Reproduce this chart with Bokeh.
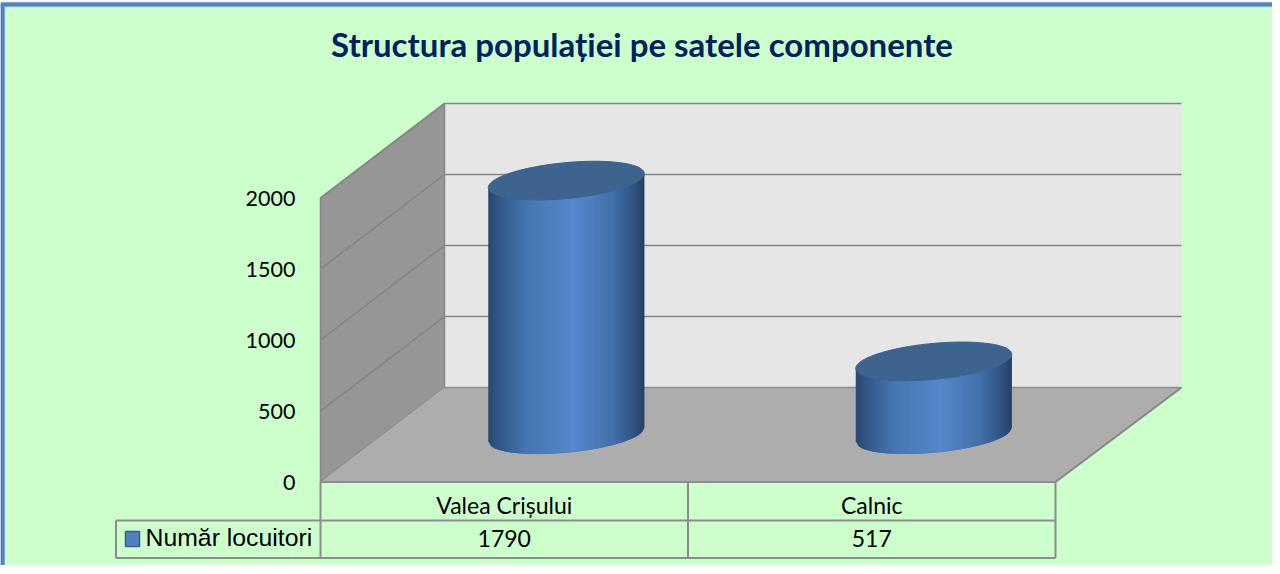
import math
from bokeh.plotting import figure
from bokeh.models import Range1d, LinearAxis, FixedTicker
from bokeh.core.properties import value
from bokeh.embed import file_html
from bokeh.resources import INLINE

# ---- data ----
title_text = "Structura populației pe satele componente"
categories = ["Valea Crișului", "Calnic"]
series_name = "Număr locuitori"
locuitori = [1790, 517]
y_ticks = [0, 500, 1000, 1500, 2000]

# ---- page geometry (pixels) ----
W, H = 1272, 565
LEFT, TOP = 8, 8
Y0_PX = 489.5          # pixel of value 0 on the front plane
SCALE = 0.142          # pixels per inhabitant
DEPTH_X, DEPTH_Y = 124, 94.5
FRONT_L, FRONT_R = 328, 1063
LEGEND_L = 123.5
ROW1, ROW2 = 528, 565.5
RX, RY, SHEAR = 78, 18, 7

def py(px):
    """pixel row -> data y"""
    return (Y0_PX - px) / SCALE

def off(px):
    """upward pixel offset -> data units"""
    return px / SCALE

p = figure(width=W, height=H, output_backend="svg", toolbar_location=None,
           x_range=Range1d(LEFT, LEFT + W), y_range=Range1d(py(TOP + H), py(TOP)),
           min_border=0, min_border_left=0, min_border_right=0, min_border_top=0, min_border_bottom=0,
           outline_line_color=None, background_fill_color="white", border_fill_color="white")
p.xaxis.visible = False
p.yaxis.visible = False
p.grid.visible = False

# chart area and its border
p.quad(left=[12], right=[LEFT + W], top=[py(14)], bottom=[py(TOP + H)], fill_color="#ccffcc", line_color=None)
p.line([10, 10], [py(TOP + H), py(12)], line_color="#c6d6ea", line_width=6)
p.line([8, LEFT + W], [py(12), py(12)], line_color="#c6d6ea", line_width=6)
p.line([10, 10], [py(TOP + H), py(12)], line_color="#4f81bd", line_width=4)
p.line([8, LEFT + W], [py(12), py(12)], line_color="#4f81bd", line_width=4)

# 3D walls
top_v = y_ticks[-1]
back_l = FRONT_L + DEPTH_X
back_r = FRONT_R + 126
dy = off(DEPTH_Y)
p.patch([back_l, back_r, back_r, back_l], [dy, dy, dy + top_v, dy + top_v], fill_color="#e6e6e6", line_color=None)
p.patch([FRONT_L, back_l, back_l, FRONT_L], [0, dy, dy + top_v, top_v], fill_color="#969696", line_color="#868686", line_width=1.5)
p.patch([FRONT_L, back_l, back_r, FRONT_R], [0, dy, dy, 0], fill_color="#adadad", line_color=None)
p.line([back_r, FRONT_R], [dy, 0], line_color="#868686", line_width=2)
for t in y_ticks[1:]:
    p.line([FRONT_L, back_l, back_r], [t, t + dy, t + dy], line_color="#868686", line_width=1.6)
p.line([back_l, back_r], [dy, dy], line_color="#8f8f8f", line_width=1.6)

# data table
n = len(categories)
col_w = (FRONT_R - FRONT_L) / n
p.line([FRONT_L, FRONT_R], [0, 0], line_color="#8c8c8c", line_width=2)
p.line([LEGEND_L, FRONT_R], [py(ROW1), py(ROW1)], line_color="#8c8c8c", line_width=2)
p.line([LEGEND_L, FRONT_R], [py(ROW2), py(ROW2)], line_color="#8c8c8c", line_width=2)
for i in range(n + 1):
    xc = FRONT_L + i * col_w
    p.line([xc, xc], [0, py(ROW2)], line_color="#8c8c8c", line_width=2)
p.line([LEGEND_L, LEGEND_L], [py(ROW1), py(ROW2)], line_color="#8c8c8c", line_width=2)

centers = [FRONT_L + (i + 0.5) * col_w for i in range(n)]
font = value("Lato")
p.text(centers, [py(512)] * n, text=categories, text_font=font, text_font_size="23px",
       text_align="center", text_baseline="middle", text_color="#000000")
p.text(centers, [py(546)] * n, text=[str(v) for v in locuitori], text_font=font, text_font_size="23px",
       text_align="center", text_baseline="middle", text_color="#000000")

# legend key
p.quad(left=[133], right=[147], top=[py(539)], bottom=[py(554)], fill_color="#4f81bd", line_color="#385d8a", line_width=1.5)
p.text([153], [py(545)], text=[series_name], text_font=value("Liberation Sans"), text_font_size="24.8px",
       text_align="left", text_baseline="middle", text_color="#000000")

# title
p.text([649.5], [py(51.5)], text=[title_text], text_font=font, text_font_style="bold", text_font_size="33px",
       text_align="center", text_baseline="middle", text_color="#002060")

# cylinders
STOPS = [(0.0, (41, 70, 112)), (0.07, (50, 88, 136)), (0.25, (70, 118, 178)), (0.55, (85, 135, 203)),
         (0.8, (66, 112, 170)), (0.93, (48, 84, 130)), (1.0, (38, 64, 102))]

def grad(f):
    for (a, ca), (b, cb) in zip(STOPS, STOPS[1:]):
        if f <= b:
            k = (f - a) / (b - a)
            return "#%02x%02x%02x" % tuple(round(x + (y - x) * k) for x, y in zip(ca, cb))
    return "#%02x%02x%02x" % STOPS[-1][1]

def near_arc(u):
    """upward pixel offset of the near arc of a cylinder's ellipse"""
    return SHEAR * u - RY * math.sqrt(max(0, 1 - u * u))

base = off(DEPTH_Y / 2)
N = 78
for cat_x, v in zip(centers, locuitori):
    cx = cat_x + DEPTH_X / 2
    xs, ys, cols = [], [], []
    for i in range(N):
        u0 = -1 + 2 * i / N
        u1 = min(-1 + 2 * (i + 1) / N + 0.03, 1)
        x0, x1 = cx + RX * u0, cx + RX * u1
        xs.append([x0, x1, x1, x0])
        ys.append([base + off(near_arc(u0)), base + off(near_arc(u1)),
                   base + v + off(near_arc(u1)), base + v + off(near_arc(u0))])
        cols.append(grad((i + 0.5) / N))
    p.patches(xs, ys, fill_color=cols, line_color=None)
    ts = [2 * math.pi * i / 120 for i in range(120)]
    ex = [cx + RX * math.cos(t) for t in ts]
    ey = [base + v + off(SHEAR * math.cos(t) + RY * math.sin(t)) for t in ts]
    p.patch(ex, ey, fill_color="#3c648f", line_color="#3a6190", line_width=1)

# value axis placed on the front edge of the side wall
axis = LinearAxis(ticker=FixedTicker(ticks=y_ticks), fixed_location=FRONT_L - 1,
                  axis_line_color=None, major_tick_line_color=None, minor_tick_line_color=None,
                  major_label_text_font="Lato", major_label_text_font_size="21.5px",
                  major_label_text_color="#000000", major_label_standoff=18)
p.add_layout(axis, "left")

open("out.html", "w").write(file_html(p, INLINE))
